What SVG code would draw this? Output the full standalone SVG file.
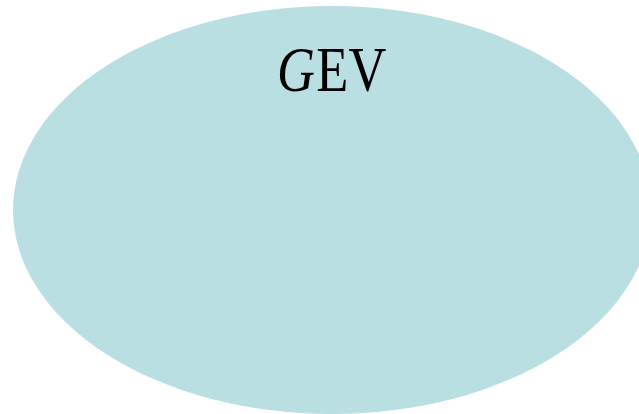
<svg xmlns="http://www.w3.org/2000/svg" width="639" height="414" viewBox="0 0 639 414">
<style>
.set{fill:#BADFE3;stroke:none}
.lbl{font-family:"Liberation Serif","DejaVu Serif",serif;font-size:64px;fill:#000}
</style>
<rect width="639" height="414" fill="#fff"/>
<g id="gev">
<ellipse class="set" cx="332" cy="210" rx="319" ry="204"/>
<g transform="translate(277,91) scale(0.82,1)">
<text class="lbl" x="0" y="0" font-style="italic">G</text>
<text class="lbl" x="48" y="0">EV</text>
</g>
</g>
<g id="connectors"/>
</svg>
